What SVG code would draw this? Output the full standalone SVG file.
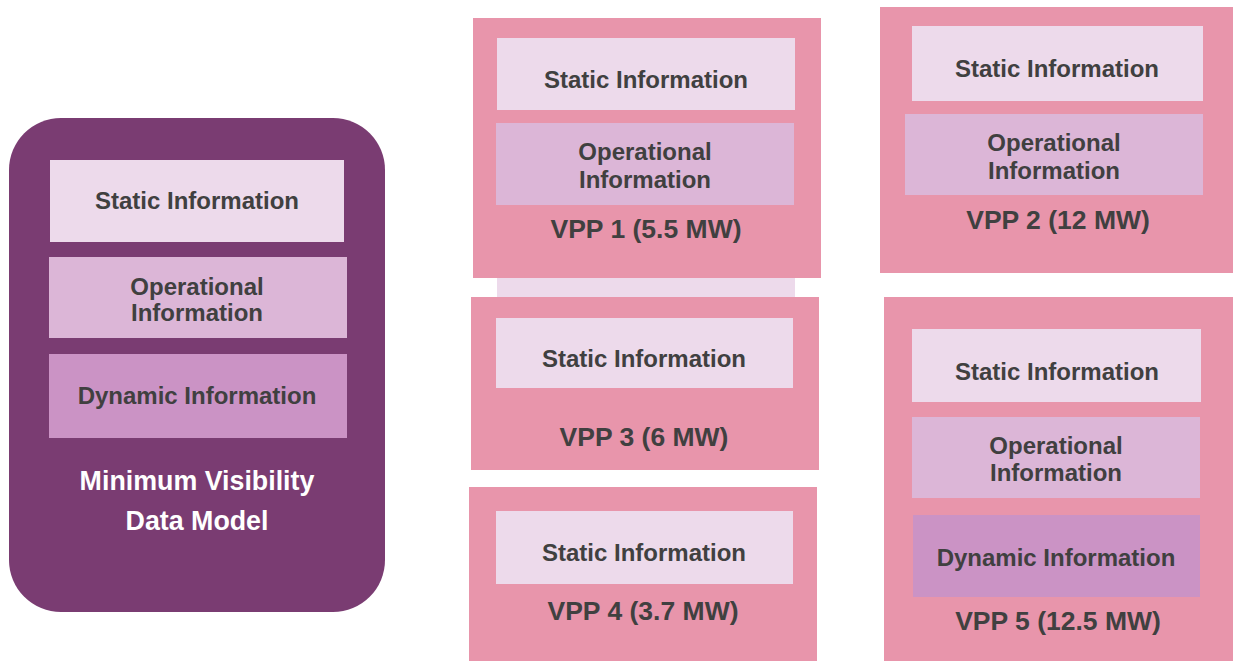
<svg xmlns="http://www.w3.org/2000/svg" width="1233" height="661" viewBox="0 0 1233 661">
  <style>
    text { font-family: "Liberation Sans", Arial, sans-serif; font-weight: bold; text-anchor: middle; fill: #404040; }
    .info { font-size: 24px; }
    .vpp { font-size: 26.5px; }
    .title { font-size: 26.8px; fill: #FFFFFF; }
    .outer { fill: #E895AB; }
    .static { fill: #EDDAEB; }
    .oper { fill: #DCB6D7; }
    .dyn { fill: #CB93C5; }
  </style>

  <!-- Reference data model -->
  <g id="data-model">
    <rect x="9" y="118" width="376" height="494" rx="52" ry="52" fill="#7A3C72"/>
    <rect class="static" x="50" y="160" width="294" height="82"/>
    <text class="info" x="197" y="209">Static Information</text>
    <rect class="oper" x="49" y="257" width="298" height="81"/>
    <text class="info" x="197" y="295">Operational</text>
    <text class="info" x="197" y="321">Information</text>
    <rect class="dyn" x="49" y="354" width="298" height="84"/>
    <text class="info" x="197" y="404">Dynamic Information</text>
    <text class="title" x="197" y="490">Minimum Visibility</text>
    <text class="title" x="197" y="530">Data Model</text>
  </g>

  <!-- light strip between VPP 1 and VPP 3 -->
  <rect class="static" x="497" y="278" width="298" height="20"/>

  <g id="vpp1">
    <rect class="outer" x="473" y="18" width="348" height="260"/>
    <rect class="static" x="497" y="38" width="298" height="72"/>
    <text class="info" x="646" y="88">Static Information</text>
    <rect class="oper" x="496" y="123" width="298" height="82"/>
    <text class="info" x="645" y="160">Operational</text>
    <text class="info" x="645" y="188">Information</text>
    <text class="vpp" x="646" y="238">VPP 1 (5.5 MW)</text>
  </g>

  <g id="vpp2">
    <rect class="outer" x="880" y="7" width="353" height="266"/>
    <rect class="static" x="912" y="26" width="291" height="75"/>
    <text class="info" x="1057" y="77">Static Information</text>
    <rect class="oper" x="905" y="114" width="298" height="81"/>
    <text class="info" x="1054" y="151">Operational</text>
    <text class="info" x="1054" y="179">Information</text>
    <text class="vpp" x="1058" y="229">VPP 2 (12 MW)</text>
  </g>

  <g id="vpp3">
    <rect class="outer" x="471" y="297" width="348" height="173"/>
    <rect class="static" x="496" y="318" width="297" height="70"/>
    <text class="info" x="644" y="367">Static Information</text>
    <text class="vpp" x="644" y="446">VPP 3 (6 MW)</text>
  </g>

  <g id="vpp4">
    <rect class="outer" x="469" y="487" width="348" height="174"/>
    <rect class="static" x="496" y="511" width="297" height="73"/>
    <text class="info" x="644" y="561">Static Information</text>
    <text class="vpp" x="643" y="620">VPP 4 (3.7 MW)</text>
  </g>

  <g id="vpp5">
    <rect class="outer" x="884" y="297" width="349" height="364"/>
    <rect class="static" x="912" y="329" width="289" height="73"/>
    <text class="info" x="1057" y="380">Static Information</text>
    <rect class="oper" x="912" y="417" width="288" height="81"/>
    <text class="info" x="1056" y="454">Operational</text>
    <text class="info" x="1056" y="481">Information</text>
    <rect class="dyn" x="913" y="515" width="287" height="82"/>
    <text class="info" x="1056" y="566">Dynamic Information</text>
    <text class="vpp" x="1058" y="630">VPP 5 (12.5 MW)</text>
  </g>

  <!-- no connectors are drawn between the blocks -->
  <g id="connectors"/>
</svg>
